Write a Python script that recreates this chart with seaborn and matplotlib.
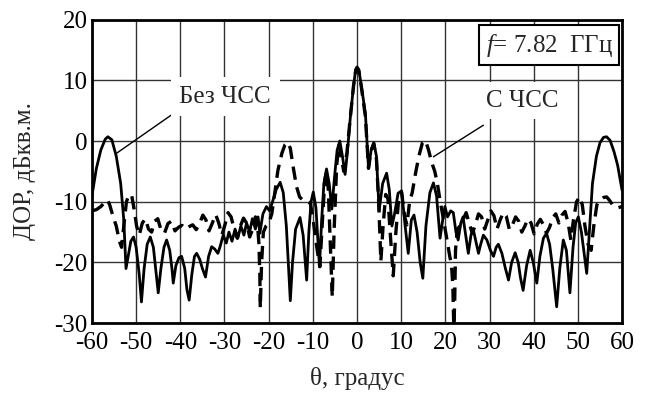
import numpy as np
import pandas as pd
import matplotlib
matplotlib.use('Agg')
import matplotlib.pyplot as plt
import seaborn as sns

sns.set_style('white')
plt.rcParams['font.family'] = ['Liberation Serif', 'DejaVu Serif']
plt.rcParams['mathtext.fontset'] = 'custom'
plt.rcParams['mathtext.it'] = 'Liberation Serif:italic'

# ДОР без ЧСС (сплошная)
theta_bez = [-60.0, -59.0, -58.0, -57.0, -56.4, -55.5, -54.5, -53.5, -52.8, -52.3,
             -51.8, -51.2, -50.6, -50.0, -49.3, -48.8, -48.2, -47.5, -46.8, -46.1,
             -45.5, -45.0, -44.4, -43.7, -43.1, -42.4, -41.9, -41.6, -41.0, -40.3,
             -39.7, -39.0, -38.5, -38.0, -37.4, -36.8, -36.3, -35.6, -35.0, -34.3,
             -33.6, -32.9, -32.2, -31.5, -31.0, -30.3, -29.6, -29.0, -28.3, -27.6,
             -27.0, -26.3, -25.6, -25.0, -24.3, -23.7, -23.0, -22.4, -22.0, -21.3,
             -20.5, -19.8, -19.0, -18.3, -17.4, -16.7, -16.0, -15.5, -15.1, -14.6,
             -13.9, -12.9, -12.2, -11.7, -11.4, -10.9, -10.4, -9.9, -9.3, -8.8,
             -8.5, -8.0, -7.5, -6.9, -6.3, -5.7, -5.1, -4.5, -3.9, -3.3,
             -2.7, -2.2, -1.5, -0.8, -0.3, 0.0, 0.4, 1.0, 1.9, 2.6,
             3.2, 3.8, 4.4, 5.0, 5.8, 6.7, 7.3, 7.9, 8.5, 9.3,
             10.1, 10.9, 11.6, 12.3, 12.9, 13.6, 14.3, 14.9, 15.6, 16.5,
             17.3, 18.0, 18.8, 19.4, 19.9, 20.5, 21.2, 21.8, 22.4, 22.9,
             23.5, 24.0, 24.6, 25.2, 25.8, 26.3, 26.9, 27.5, 28.0, 28.6,
             29.4, 30.2, 30.9, 31.5, 32.0, 32.8, 33.6, 34.3, 35.0, 35.8,
             36.5, 37.0, 37.6, 38.4, 39.2, 39.9, 40.7, 41.4, 42.2, 42.9,
             43.6, 44.3, 45.2, 45.9, 46.7, 47.4, 48.2, 48.9, 49.5, 50.1,
             50.8, 51.5, 52.0, 52.6, 53.3, 54.2, 55.0, 55.8, 56.5, 57.3,
             58.2, 59.0, 60.0]
dor_bez = [-9.0, -4.5, -1.5, 0.3, 0.7, 0.2, -2.5, -7.0, -13.0, -21.0,
           -19.0, -16.5, -15.8, -17.5, -22.0, -26.5, -21.0, -17.0, -15.8, -17.5,
           -21.5, -25.0, -21.0, -17.5, -16.3, -18.0, -21.0, -23.4, -20.5, -19.2,
           -19.0, -21.0, -24.5, -26.2, -22.0, -19.0, -18.5, -19.5, -21.0, -22.4,
           -19.0, -17.4, -17.8, -18.5, -17.4, -15.5, -16.8, -15.0, -16.5, -14.5,
           -16.0, -14.0, -15.5, -13.5, -15.0, -12.8, -14.5, -12.5, -15.2, -12.0,
           -10.8, -11.5, -9.7, -8.0, -6.8, -8.5, -14.0, -21.0, -26.3, -20.0,
           -14.5, -12.6, -15.5, -20.0, -22.9, -15.0, -10.0, -8.4, -11.0, -17.0,
           -20.7, -13.0, -7.0, -4.6, -7.0, -11.2, -6.0, -1.5, 0.0, -2.5,
           -5.5, -2.0, 4.0, 9.0, 11.8, 12.2, 11.8, 9.0, 4.5, -4.5,
           -1.5, -0.3, -2.5, -11.5, -7.0, -5.3, -8.0, -14.0, -12.0, -8.6,
           -8.2, -14.0, -18.5, -13.0, -12.2, -15.0, -20.0, -22.6, -14.0, -8.5,
           -6.9, -9.0, -16.0, -13.0, -10.8, -12.5, -11.5, -11.8, -15.0, -16.3,
           -13.5, -12.5, -15.5, -18.5, -15.5, -14.5, -16.5, -18.5, -17.0, -15.5,
           -16.3, -18.0, -19.0, -17.5, -17.0, -18.5, -21.0, -22.9, -20.0, -18.4,
           -20.0, -22.5, -24.6, -20.5, -18.0, -20.0, -23.4, -19.0, -16.0, -15.2,
           -17.0, -21.0, -27.3, -21.0, -16.3, -18.0, -25.0, -17.5, -13.5, -12.5,
           -15.0, -19.0, -21.8, -15.0, -7.0, -2.5, -0.3, 0.6, 0.7, 0.1,
           -1.8, -4.0, -8.1]

# ДОР с ЧСС (штриховая)
theta_s = [-60.0, -59.0, -58.0, -57.0, -56.5, -56.0, -55.2, -54.5, -53.8, -53.3,
           -52.8, -52.2, -51.6, -51.0, -50.4, -49.9, -49.3, -48.6, -47.9, -47.2,
           -46.5, -45.8, -45.1, -44.4, -43.6, -42.8, -42.0, -41.2, -40.4, -39.6,
           -38.8, -38.0, -37.2, -36.4, -35.6, -34.9, -34.2, -33.5, -32.8, -32.0,
           -31.3, -30.6, -29.9, -29.2, -28.5, -27.8, -27.1, -26.4, -25.7, -25.0,
           -24.3, -23.6, -23.0, -22.5, -22.2, -22.0, -21.9, -21.6, -21.2, -20.6,
           -20.0, -19.3, -18.6, -17.9, -17.0, -16.3, -15.7, -15.1, -14.4, -13.7,
           -13.0, -12.2, -11.3, -10.6, -10.0, -9.4, -8.8, -8.4, -7.9, -7.3,
           -6.9, -6.5, -6.1, -5.8, -5.6, -5.2, -4.6, -4.1, -3.6, -3.0,
           -2.3, -1.5, -0.8, -0.3, 0.0, 0.4, 1.0, 1.9, 2.6, 3.2,
           3.8, 4.4, 4.9, 5.4, 5.9, 6.5, 7.0, 7.6, 8.2, 8.8,
           9.5, 10.1, 10.8, 11.3, 11.9, 12.5, 13.2, 14.0, 14.8, 15.5,
           16.2, 16.9, 17.6, 18.2, 18.8, 19.6, 20.3, 21.0, 21.4, 21.7,
           21.9, 22.1, 22.3, 22.7, 23.3, 24.0, 24.7, 25.4, 26.1, 26.8,
           27.5, 28.2, 28.9, 29.6, 30.3, 31.0, 31.7, 32.4, 33.1, 33.8,
           34.5, 35.2, 35.9, 36.6, 37.3, 38.0, 38.7, 39.4, 40.1, 40.8,
           41.5, 42.2, 42.9, 43.6, 44.3, 45.0, 45.7, 46.4, 47.1, 47.8,
           48.4, 49.0, 49.7, 50.4, 51.0, 51.6, 52.3, 53.0, 53.6, 54.3,
           55.0, 55.8, 56.5, 57.2, 58.0, 59.0, 60.0]
dor_s = [-11.5, -11.3, -10.8, -10.0, -9.7, -10.5, -12.5, -14.0, -16.5, -17.5,
         -14.0, -10.0, -8.8, -9.0, -11.5, -14.0, -15.5, -13.5, -12.8, -14.5,
         -15.0, -13.2, -12.8, -14.6, -15.2, -13.6, -13.2, -14.8, -14.2, -13.9,
         -14.5, -14.1, -13.8, -14.6, -13.5, -12.2, -13.0, -14.8, -13.6, -12.1,
         -13.5, -15.5, -13.8, -11.8, -12.5, -14.6, -16.0, -14.0, -12.7, -13.5,
         -15.8, -14.5, -12.5, -14.0, -17.0, -22.0, -27.5, -20.0, -15.0, -14.0,
         -13.6, -12.0, -8.5, -4.8, -2.0, -0.6, -0.2, -1.2, -4.5, -7.5,
         -9.2, -9.8, -9.9, -10.2, -12.5, -16.0, -19.0, -20.7, -14.0, -6.5,
         -5.0, -8.0, -16.0, -22.0, -25.7, -15.0, -4.0, -0.5, -2.5, -5.0,
         -2.0, 4.0, 9.0, 11.6, 12.0, 11.6, 8.8, 4.0, -4.5, -1.5,
         -0.4, -3.0, -10.0, -19.8, -14.0, -8.8, -9.5, -16.0, -22.2, -15.0,
         -9.0, -8.5, -12.5, -13.8, -10.0, -8.5, -5.5, -2.5, -0.3, 0.1,
         -1.5, -3.5, -5.0, -7.0, -9.8, -13.0, -16.0, -19.0, -20.5, -24.0,
         -30.5, -27.0, -18.0, -14.5, -14.0, -13.0, -11.8, -13.5, -15.2, -13.8,
         -12.0, -12.5, -14.5, -13.0, -11.5, -12.3, -14.5, -13.0, -11.8, -12.4,
         -14.6, -13.8, -12.5, -13.2, -15.0, -14.0, -12.8, -13.5, -15.3, -13.7,
         -12.9, -13.8, -15.2, -14.2, -12.6, -12.0, -13.5, -12.2, -11.6, -13.5,
         -16.3, -13.0, -10.0, -9.2, -10.5, -14.0, -17.0, -18.0, -14.0, -10.5,
         -9.7, -9.3, -9.2, -9.8, -10.7, -11.0, -10.8]

x_ticks = [-60, -50, -40, -30, -20, -10, 0, 10, 20, 30, 40, 50, 60]
y_ticks = [-30, -20, -10, 0, 10, 20]

df_bez = pd.DataFrame({'theta': theta_bez, 'dor': dor_bez})
df_s = pd.DataFrame({'theta': theta_s, 'dor': dor_s})

fig = plt.figure(figsize=(6.5, 3.99), dpi=100)
ax = fig.add_axes([0.1415, 0.19, 0.8155, 0.761])

sns.lineplot(data=df_bez, x='theta', y='dor', ax=ax, color='black', lw=2.0,
             sort=False, estimator=None)
sns.lineplot(data=df_s, x='theta', y='dor', ax=ax, color='black', lw=2.4,
             sort=False, estimator=None, linestyle=(0, (4.0, 2.3)))

ax.set_xlim(-60, 60)
ax.set_ylim(-30, 20)
ax.set_xticks(x_ticks)
ax.set_yticks(y_ticks)
ax.set_xticklabels([str(v) for v in x_ticks])
ax.set_yticklabels([str(v) for v in y_ticks])
ax.grid(True, color='#333333', lw=1.0)
ax.tick_params(length=0, labelsize=18, colors='black')
ax.tick_params(axis='x', pad=6)
ax.tick_params(axis='y', pad=3)
for s in ax.spines.values():
    s.set_color('black')
    s.set_linewidth(2.0)

ax.set_xlabel('θ, градус', fontsize=18)
ax.set_ylabel('ДОР, дБкв.м.', fontsize=18)
ax.xaxis.set_label_coords(0.5, -0.145)
ax.yaxis.set_label_coords(-0.105, 0.5)

# подписи кривых
ax.annotate('', xy=(-54.4, -2.0), xytext=(-41.6, 4.5),
            arrowprops=dict(arrowstyle='-', color='black', lw=1.0,
                            shrinkA=0, shrinkB=0))
ax.text(-40.2, 7.3, 'Без ЧСС', fontsize=18, ha='left', va='center',
        bbox=dict(boxstyle='square,pad=0.35', fc='white', ec='none'))
ax.annotate('', xy=(17.3, -2.6), xytext=(28.6, 2.6),
            arrowprops=dict(arrowstyle='-', color='black', lw=1.0,
                            shrinkA=0, shrinkB=0))
ax.text(29.3, 6.6, 'С ЧСС', fontsize=18, ha='left', va='center',
        bbox=dict(boxstyle='square,pad=0.3', fc='white', ec='none'))

ax.text(0.983, 0.96, r'$\mathit{f}$= 7.82  ГГц', transform=ax.transAxes,
        fontsize=18, ha='right', va='top',
        bbox=dict(boxstyle='square,pad=0.25', fc='white', ec='black', lw=1.5))

fig.savefig('out.png', dpi=100)
